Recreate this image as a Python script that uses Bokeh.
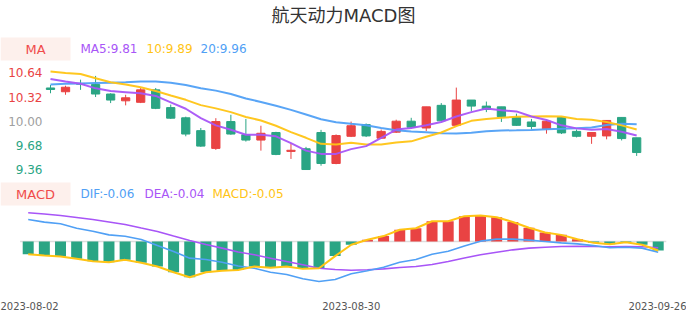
from bokeh.plotting import figure
from bokeh.models import Range1d, LinearAxis, FixedTicker, ColumnDataSource
from bokeh.core.properties import value
from bokeh.embed import file_html
from bokeh.resources import INLINE

# ---------------- data ----------------
title = "航天动力MACD图"
dates = ["2023-08-02", "2023-08-03", "2023-08-04", "2023-08-07", "2023-08-08",
         "2023-08-09", "2023-08-10", "2023-08-11", "2023-08-14", "2023-08-15",
         "2023-08-16", "2023-08-17", "2023-08-18", "2023-08-21", "2023-08-22",
         "2023-08-23", "2023-08-24", "2023-08-25", "2023-08-28", "2023-08-29",
         "2023-08-30", "2023-08-31", "2023-09-01", "2023-09-04", "2023-09-05",
         "2023-09-06", "2023-09-07", "2023-09-08", "2023-09-11", "2023-09-12",
         "2023-09-13", "2023-09-14", "2023-09-15", "2023-09-18", "2023-09-19",
         "2023-09-20", "2023-09-21", "2023-09-22", "2023-09-25", "2023-09-26"]
opens = [10.44, 10.39, 10.50, 10.485, 10.36, 10.27, 10.25, 10.415, 10.18, 10.045,
         9.875, 9.64, 9.995, 9.82, 9.75, 9.85, 9.60, 9.635, 9.85, 9.44,
         9.80, 9.955, 9.775, 9.855, 10.00, 9.91, 10.21, 9.945, 10.28, 10.20,
         10.19, 10.05, 9.99, 9.90, 10.05, 9.865, 9.80, 9.805, 10.05, 9.78]
highs = [10.48, 10.47, 10.55, 10.60, 10.37, 10.35, 10.44, 10.44, 10.22, 10.06,
         9.91, 10.04, 10.085, 10.03, 9.94, 9.86, 9.71, 9.66, 9.885, 9.825,
         9.995, 9.97, 9.89, 10.02, 10.045, 10.19, 10.24, 10.445, 10.28, 10.26,
         10.19, 10.10, 10.03, 10.00, 10.05, 9.89, 9.85, 10.01, 10.05, 9.78]
lows = [10.37, 10.35, 10.415, 10.32, 10.24, 10.21, 10.24, 10.16, 10.03, 9.80,
        9.66, 9.62, 9.82, 9.73, 9.61, 9.55, 9.50, 9.36, 9.41, 9.43,
        9.79, 9.79, 9.77, 9.845, 9.91, 9.87, 10.00, 9.94, 10.13, 10.12,
        9.99, 9.94, 9.89, 9.835, 9.83, 9.785, 9.70, 9.76, 9.745, 9.54]
closes = [10.42, 10.45, 10.49, 10.36, 10.28, 10.31, 10.415, 10.17, 10.04, 9.83,
          9.67, 9.995, 9.83, 9.75, 9.84, 9.56, 9.615, 9.36, 9.44, 9.81,
          9.94, 9.805, 9.865, 10.00, 9.92, 10.19, 10.005, 10.28, 10.20, 10.155,
          10.06, 9.945, 9.93, 10.00, 9.845, 9.80, 9.85, 10.01, 9.77, 9.585]
ma5 = [10.56, 10.525, 10.495, 10.435, 10.40, 10.385, 10.37, 10.335, 10.25, 10.165,
       10.04, 9.945, 9.887, 9.82, 9.82, 9.80, 9.71, 9.61, 9.567, 9.567,
       9.63, 9.67, 9.78, 9.89, 9.91, 9.947, 9.99, 10.062, 10.12, 10.168,
       10.145, 10.13, 10.062, 10.015, 9.945, 9.905, 9.887, 9.897, 9.86, 9.81]
ma10 = [10.658, 10.64, 10.625, 10.57, 10.515, 10.485, 10.45, 10.40, 10.34, 10.283,
        10.213, 10.17, 10.12, 10.055, 10.01, 9.94, 9.855, 9.78, 9.70, 9.69,
        9.715, 9.69, 9.69, 9.717, 9.733, 9.795, 9.85, 9.935, 10.005, 10.03,
        10.047, 10.058, 10.063, 10.065, 10.063, 10.03, 10.02, 9.99, 9.945, 9.89]
ma20 = [10.485, 10.495, 10.50, 10.505, 10.51, 10.515, 10.525, 10.525, 10.51, 10.48,
        10.437, 10.405, 10.36, 10.30, 10.255, 10.205, 10.15, 10.088, 10.025, 9.987,
        9.965, 9.945, 9.91, 9.88, 9.864, 9.855, 9.84, 9.838, 9.848, 9.868,
        9.877, 9.88, 9.885, 9.893, 9.90, 9.908, 9.918, 9.95, 9.966, 9.96]
dif = [0.129, 0.114, 0.104, 0.078, 0.060, 0.039, 0.031, 0.012, -0.024, -0.059,
       -0.098, -0.106, -0.122, -0.144, -0.157, -0.181, -0.194, -0.219, -0.235, -0.224,
       -0.190, -0.172, -0.151, -0.122, -0.106, -0.075, -0.057, -0.026, 0.002, 0.014,
       0.014, 0.008, 0.000, -0.008, -0.014, -0.024, -0.037, -0.034, -0.039, -0.063]
dea = [0.169, 0.162, 0.153, 0.141, 0.129, 0.115, 0.100, 0.079, 0.059, 0.032,
       0.006, -0.018, -0.039, -0.062, -0.078, -0.098, -0.118, -0.137, -0.157, -0.165,
       -0.169, -0.166, -0.161, -0.153, -0.147, -0.135, -0.118, -0.097, -0.078, -0.063,
       -0.049, -0.039, -0.034, -0.029, -0.028, -0.029, -0.031, -0.029, -0.031, -0.037]
macd = [-0.075, -0.082, -0.088, -0.102, -0.116, -0.122, -0.108, -0.125, -0.147, -0.181,
        -0.210, -0.181, -0.172, -0.168, -0.147, -0.155, -0.147, -0.161, -0.157, -0.086,
        -0.019, 0.010, 0.032, 0.069, 0.078, 0.119, 0.119, 0.149, 0.153, 0.143,
        0.115, 0.081, 0.053, 0.039, 0.013, -0.008, -0.016, -0.004, -0.019, -0.053]
price_ticks = [9.36, 9.68, 10.00, 10.32, 10.64]
ref_price = 10.00
date_tick_idx = [0, 20, 39]

# ---------------- style / layout ----------------
RED = "#e94343"
GREEN = "#2aa584"
PURPLE = "#a855f7"
YELLOW = "#ffc414"
BLUE = "#50a0f5"
GRAY = "#a0a0a0"
BOXBG = "#fdf0ec"
BOXTXT = "#f04b4b"
FONT = value("DejaVu Sans")

W, H = 686, 320
FRAME_H = 296
CX0, CDX = 50.0, 15.03      # first candle px, candle spacing px
PY0, PSC = 120.7, 75.5      # px of reference price, px per price unit
MX0, MDX = 27.7, 16.154     # first macd bar px, spacing px
MY0, MSC = 241.0, 170.0     # px of macd zero, px per macd unit

n = len(dates)
idx = list(range(n))

p = figure(width=W, height=H, output_backend="svg", toolbar_location=None,
           x_range=Range1d(0, W), y_range=Range1d(FRAME_H, 0),
           x_axis_location=None, y_axis_location=None,
           min_border=0, min_border_bottom=H - FRAME_H)
p.outline_line_color = None
p.background_fill_color = "white"
p.border_fill_color = "white"
p.xgrid.visible = False
p.ygrid.visible = False

p.extra_x_ranges = {
    "cx": Range1d(-CX0 / CDX, (W - CX0) / CDX),
    "mx": Range1d(-MX0 / MDX, (W - MX0) / MDX),
}
p.extra_y_ranges = {
    "price": Range1d(ref_price - (FRAME_H - PY0) / PSC, ref_price + PY0 / PSC),
    "macd": Range1d(-(FRAME_H - MY0) / MSC, MY0 / MSC),
}

# ---- title ----
p.text(x=[W / 2], y=[15], text=[title], text_align="center", text_baseline="middle",
       text_font=value("DejaVu Sans, Noto Sans CJK SC"), text_font_size="18px",
       text_color="#333333")

# ---- candle panel ----
colors = [RED if c >= o else GREEN for o, c in zip(opens, closes)]
src = ColumnDataSource(dict(
    i=idx, high=highs, low=lows,
    top=[max(o, c) for o, c in zip(opens, closes)],
    bottom=[min(o, c) for o, c in zip(opens, closes)],
    color=colors))
p.segment(x0="i", y0="low", x1="i", y1="high", line_color="color", line_width=1,
          source=src, x_range_name="cx", y_range_name="price")
p.vbar(x="i", width=0.55, top="top", bottom="bottom", fill_color="color",
       line_color="color", line_width=1, source=src, x_range_name="cx", y_range_name="price")

for series, col in ((ma20, BLUE), (ma10, YELLOW), (ma5, PURPLE)):
    p.line(x=idx, y=series, line_color=col, line_width=2, line_alpha=0.95,
           x_range_name="cx", y_range_name="price")

tick_colors = [RED if t > ref_price else (GREEN if t < ref_price else GRAY) for t in price_ticks]
p.text(x=[42] * len(price_ticks), y=price_ticks, text=[f"{t:.2f}" for t in price_ticks],
       text_align="right", text_baseline="middle", text_color=tick_colors,
       text_font=FONT, text_font_size="12px", y_range_name="price")

# legend for MA
p.quad(left=[0], right=[70], top=[37], bottom=[60], fill_color=BOXBG, line_color=None)
p.text(x=[35], y=[48.5], text=["MA"], text_align="center", text_baseline="middle",
       text_color=BOXTXT, text_font=FONT, text_font_size="13px")
p.text(x=[80, 146, 200], y=[48.5] * 3,
       text=[f"MA5:{ma5[-1]:.2f}", f"10:{ma10[-1]:.2f}", f"20:{ma20[-1]:.2f}"],
       text_align="left", text_baseline="middle", text_color=[PURPLE, YELLOW, BLUE],
       text_font=FONT, text_font_size="12px")

# ---- MACD panel ----
p.segment(x0=[-0.5], y0=[0], x1=[n - 0.5], y1=[0], line_color="#dddddd", line_width=1.5,
          x_range_name="mx", y_range_name="macd")
msrc = ColumnDataSource(dict(i=idx, v=macd, color=[RED if v >= 0 else GREEN for v in macd]))
p.vbar(x="i", width=0.68, top="v", bottom=0, fill_color="color", line_color=None,
       source=msrc, x_range_name="mx", y_range_name="macd")
p.line(x=idx, y=dea, line_color=PURPLE, line_width=1.6, x_range_name="mx", y_range_name="macd")
p.line(x=idx, y=dif, line_color=BLUE, line_width=1.6, x_range_name="mx", y_range_name="macd")
p.line(x=idx, y=macd, line_color=YELLOW, line_width=2, x_range_name="mx", y_range_name="macd")

p.quad(left=[0], right=[70], top=[182], bottom=[205], fill_color=BOXBG, line_color=None)
p.text(x=[35], y=[193.5], text=["MACD"], text_align="center", text_baseline="middle",
       text_color=BOXTXT, text_font=FONT, text_font_size="13px")
p.text(x=[80, 144, 212], y=[193.5] * 3,
       text=[f"DIF:{dif[-1]:.2f}", f"DEA:{dea[-1]:.2f}", f"MACD:{macd[-1]:.2f}"],
       text_align="left", text_baseline="middle", text_color=[BLUE, PURPLE, YELLOW],
       text_font=FONT, text_font_size="12px")

# ---- date axis ----
ax = LinearAxis(x_range_name="mx", ticker=FixedTicker(ticks=date_tick_idx),
                major_label_overrides={i: dates[i] for i in date_tick_idx})
ax.axis_line_color = None
ax.major_tick_line_color = None
ax.minor_tick_line_color = None
ax.major_tick_out = 0
ax.major_label_standoff = 5
ax.major_label_text_font = "DejaVu Sans"
ax.major_label_text_font_size = "10px"
ax.major_label_text_color = "#555555"
p.add_layout(ax, "below")

open("out.html", "w").write(file_html(p, INLINE))
